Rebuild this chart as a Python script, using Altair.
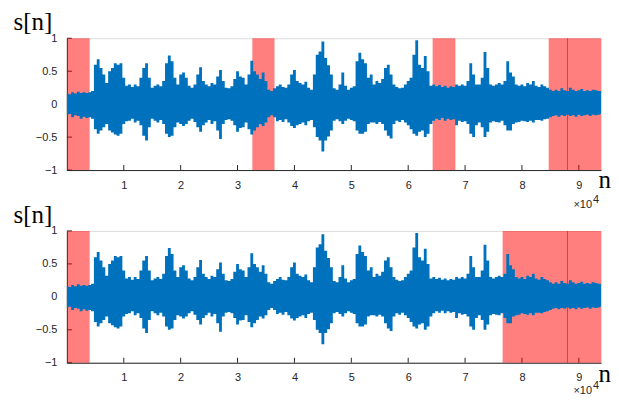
import altair as alt
import pandas as pd

# ---- data (sample index n, envelope of s[n]) ----
env_n = [0, 500, 1000, 1500, 2000, 2500, 3000, 3500, 4000, 4500,
         5000, 5500, 6000, 6500, 7000, 7500, 8000, 8500, 9000, 9500,
         10000, 10500, 11000, 11500, 12000, 12500, 13000, 13500, 14000, 14500,
         15000, 15500, 16000, 16500, 17000, 17500, 18000, 18500, 19000, 19500,
         20000, 20500, 21000, 21500, 22000, 22500, 23000, 23500, 24000, 24500,
         25000, 25500, 26000, 26500, 27000, 27500, 28000, 28500, 29000, 29500,
         30000, 30500, 31000, 31500, 32000, 32500, 33000, 33500, 34000, 34500,
         35000, 35500, 36000, 36500, 37000, 37500, 38000, 38500, 39000, 39500,
         40000, 40500, 41000, 41500, 42000, 42500, 43000, 43500, 44000, 44500,
         45000, 45500, 46000, 46500, 47000, 47500, 48000, 48500, 49000, 49500,
         50000, 50500, 51000, 51500, 52000, 52500, 53000, 53500, 54000, 54500,
         55000, 55500, 56000, 56500, 57000, 57500, 58000, 58500, 59000, 59500,
         60000, 60500, 61000, 61500, 62000, 62500, 63000, 63500, 64000, 64500,
         65000, 65500, 66000, 66500, 67000, 67500, 68000, 68500, 69000, 69500,
         70000, 70500, 71000, 71500, 72000, 72500, 73000, 73500, 74000, 74500,
         75000, 75500, 76000, 76500, 77000, 77500, 78000, 78500, 79000, 79500,
         80000, 80500, 81000, 81500, 82000, 82500, 83000, 83500, 84000, 84500,
         85000, 85500, 86000, 86500, 87000, 87500, 88000, 88500, 89000, 89500,
         90000, 90500, 91000, 91500, 92000, 92500, 93000, 93500, 93900]
env_upper = [0.17, 0.15, 0.18, 0.16, 0.19, 0.17, 0.18, 0.17, 0.18, 0.20,
             0.60, 0.68, 0.55, 0.45, 0.32, 0.50, 0.55, 0.62, 0.60, 0.62,
             0.40, 0.28, 0.30, 0.26, 0.30, 0.27, 0.40, 0.55, 0.62, 0.40,
             0.25, 0.28, 0.30, 0.27, 0.35, 0.62, 0.74, 0.65, 0.40, 0.30,
             0.45, 0.48, 0.40, 0.28, 0.25, 0.30, 0.45, 0.56, 0.35, 0.30,
             0.27, 0.32, 0.30, 0.42, 0.52, 0.35, 0.25, 0.24, 0.27, 0.38,
             0.50, 0.42, 0.40, 0.30, 0.45, 0.66, 0.50, 0.45, 0.38, 0.48,
             0.35, 0.22, 0.20, 0.24, 0.27, 0.30, 0.26, 0.25, 0.30, 0.45,
             0.52, 0.35, 0.32, 0.30, 0.34, 0.25, 0.22, 0.45, 0.75, 0.80,
             0.95, 0.70, 0.59, 0.45, 0.24, 0.22, 0.30, 0.48, 0.28, 0.22,
             0.25, 0.27, 0.65, 0.78, 0.68, 0.62, 0.40, 0.45, 0.30, 0.35,
             0.32, 0.38, 0.55, 0.60, 0.45, 0.30, 0.26, 0.24, 0.25, 0.30,
             0.35, 0.40, 0.75, 0.97, 0.60, 0.55, 0.73, 0.50, 0.28, 0.30,
             0.27, 0.29, 0.26, 0.28, 0.25, 0.27, 0.26, 0.30, 0.28, 0.30,
             0.28, 0.35, 0.62, 0.45, 0.30, 0.30, 0.40, 0.79, 0.55, 0.30,
             0.28, 0.30, 0.32, 0.30, 0.35, 0.65, 0.48, 0.42, 0.30, 0.28,
             0.30, 0.27, 0.32, 0.30, 0.35, 0.28, 0.26, 0.30, 0.27, 0.25,
             0.22, 0.20, 0.22, 0.20, 0.24, 0.21, 0.20, 0.25, 0.22, 0.20,
             0.21, 0.23, 0.20, 0.21, 0.20, 0.22, 0.21, 0.20, 0.20]
env_lower = [-0.17, -0.15, -0.20, -0.17, -0.18, -0.22, -0.19, -0.21, -0.20, -0.22,
             -0.38, -0.45, -0.40, -0.35, -0.30, -0.40, -0.43, -0.46, -0.48, -0.45,
             -0.30, -0.26, -0.25, -0.22, -0.28, -0.25, -0.32, -0.48, -0.55, -0.35,
             -0.22, -0.25, -0.28, -0.24, -0.30, -0.45, -0.50, -0.48, -0.35, -0.28,
             -0.30, -0.33, -0.30, -0.25, -0.22, -0.27, -0.35, -0.42, -0.32, -0.28,
             -0.24, -0.30, -0.26, -0.40, -0.53, -0.30, -0.24, -0.23, -0.25, -0.32,
             -0.42, -0.36, -0.35, -0.28, -0.38, -0.46, -0.40, -0.35, -0.30, -0.33,
             -0.28, -0.20, -0.17, -0.20, -0.26, -0.24, -0.27, -0.23, -0.28, -0.33,
             -0.36, -0.32, -0.30, -0.28, -0.32, -0.26, -0.24, -0.35, -0.50, -0.55,
             -0.72, -0.55, -0.49, -0.40, -0.25, -0.23, -0.26, -0.30, -0.25, -0.22,
             -0.24, -0.26, -0.40, -0.45, -0.45, -0.42, -0.30, -0.28, -0.28, -0.30,
             -0.27, -0.30, -0.40, -0.48, -0.52, -0.30, -0.25, -0.27, -0.24, -0.28,
             -0.32, -0.38, -0.45, -0.48, -0.42, -0.40, -0.50, -0.45, -0.30, -0.25,
             -0.22, -0.24, -0.21, -0.25, -0.22, -0.24, -0.23, -0.32, -0.25, -0.27,
             -0.26, -0.30, -0.45, -0.50, -0.32, -0.28, -0.35, -0.50, -0.42, -0.28,
             -0.26, -0.27, -0.28, -0.25, -0.32, -0.40, -0.40, -0.30, -0.28, -0.27,
             -0.25, -0.26, -0.27, -0.25, -0.28, -0.24, -0.24, -0.25, -0.23, -0.22,
             -0.20, -0.18, -0.17, -0.19, -0.17, -0.18, -0.16, -0.18, -0.17, -0.19,
             -0.16, -0.18, -0.17, -0.16, -0.18, -0.16, -0.17, -0.16, -0.15]

# shaded intervals (sample index)
top_red_start = [0, 32600, 64300, 84700]
top_red_end = [4000, 36500, 68300, 93900]
bot_red_start = [0, 76600]
bot_red_end = [4000, 93900]
marker_n = [88000]

x_ticks = [10000, 20000, 30000, 40000, 50000, 60000, 70000, 80000, 90000]
y_ticks = [-1, -0.5, 0, 0.5, 1]

N_MAX = 93900
W, H = 535, 132
AX = "#262626"
BLUE = "#0072BD"

wave = pd.DataFrame({"n": env_n, "upper": env_upper, "lower": env_lower})
xt_df = pd.DataFrame({"n": x_ticks})
yt_df = pd.DataFrame({"v": y_ticks})
mk_df = pd.DataFrame({"n": marker_n})


def panel(red_start, red_end, ytitle_y, ntitle_y, exp_y):
    xs = alt.Scale(domain=[0, N_MAX], nice=False, zero=False)
    ys = alt.Scale(domain=[-1, 1], nice=False, zero=False)
    xaxis = alt.Axis(values=x_ticks, labelExpr="datum.value / 10000", ticks=False,
                     grid=False, domainColor=AX, labelColor=AX, labelFontSize=11,
                     labelFont="Liberation Sans", labelPadding=9, labelOverlap=False,
                     title="n", titleFont="Liberation Serif", titleFontSize=25,
                     titleFontWeight="normal", titleColor="#000000", titleAngle=0,
                     titleAlign="left", titleBaseline="alphabetic",
                     titleX=W - 3, titleY=ntitle_y)
    yaxis = alt.Axis(values=y_ticks, tickCount=5,
                     labelExpr="datum.value == 0 ? '0' : replace(format(datum.value, '.2~f'), '-', '\u2212')",
                     ticks=False, grid=False,
                     domainColor=AX, labelColor=AX, labelFontSize=11,
                     labelFont="Liberation Sans", labelPadding=10, labelOverlap=False,
                     labelBound=False, labelFlush=False,
                     title="s[n]", titleFont="Liberation Serif", titleFontSize=25,
                     titleFontWeight="normal", titleColor="#000000", titleAngle=0,
                     titleAlign="left", titleBaseline="alphabetic",
                     titleX=-54, titleY=ytitle_y)

    ticks_x = alt.Chart(xt_df).mark_rule(color=AX, strokeWidth=1).encode(
        x=alt.X("n:Q", scale=xs, axis=xaxis), y=alt.value(H), y2=alt.value(H - 5))
    ticks_y = alt.Chart(yt_df).mark_rule(color=AX, strokeWidth=1).encode(
        y=alt.Y("v:Q", scale=ys, axis=yaxis), x=alt.value(0), x2=alt.value(5))
    red_df = pd.DataFrame({"start": red_start, "end": red_end})
    red = alt.Chart(red_df).mark_rect(color="#FF0000", opacity=0.5).encode(
        x=alt.X("start:Q", scale=xs, axis=xaxis), x2="end:Q",
        y=alt.value(0), y2=alt.value(H))
    marker = alt.Chart(mk_df).mark_rule(color="#E23A3A", strokeWidth=1).encode(
        x=alt.X("n:Q", scale=xs, axis=xaxis), y=alt.value(0), y2=alt.value(H))
    area = alt.Chart(wave).mark_area(color=BLUE, opacity=1, interpolate="step").encode(
        x=alt.X("n:Q", scale=xs, axis=xaxis),
        y=alt.Y("upper:Q", scale=ys, axis=yaxis), y2="lower:Q")
    lbl = pd.DataFrame({"t": ["\u00d710"]})
    sup = pd.DataFrame({"t": ["4"]})
    t1 = alt.Chart(lbl).mark_text(align="right", baseline="alphabetic", fontSize=11,
                                  font="Liberation Sans", color=AX).encode(
        text="t:N", x=alt.value(W - 9), y=alt.value(H + exp_y))
    t2 = alt.Chart(sup).mark_text(align="left", baseline="alphabetic", fontSize=11,
                                  font="Liberation Sans", color=AX).encode(
        text="t:N", x=alt.value(W - 8), y=alt.value(H + exp_y - 5))
    return alt.layer(ticks_x, ticks_y, red, marker, area, t1, t2).properties(
        width=W, height=H)


top = panel(top_red_start, top_red_end, -9, 17, 38)
bottom = panel(bot_red_start, bot_red_end, -8, 19, 31)

chart = alt.vconcat(top, bottom, spacing=61, bounds="flush").properties(
    padding={"left": 4, "top": 0, "right": 0, "bottom": 0}
).configure_view(stroke=None).configure(background="white")

chart.save("out.html", embed_options={"renderer": "svg", "actions": False})
